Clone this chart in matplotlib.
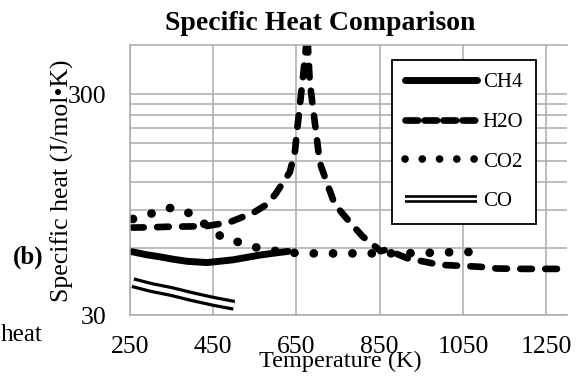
import matplotlib
matplotlib.use("Agg")
import matplotlib.pyplot as plt
from matplotlib.lines import Line2D
from matplotlib.legend_handler import HandlerTuple

plt.rcParams['font.family'] = ['Liberation Serif', 'DejaVu Serif']

# ---- data ----
ch4_T = [255, 290, 322, 355, 387, 435, 497, 562, 600, 630]
ch4_cp = [58.0, 56.2, 55.0, 53.6, 52.5, 51.8, 53.3, 56.0, 57.3, 58.2]

h2o_T = [255, 300, 346, 400, 435, 490, 546, 579, 600, 634, 646, 651, 658, 665, 670, 676,
         682, 694, 706, 723, 742, 778, 809, 843, 852, 866, 915, 994, 1090, 1131, 1200, 1300]
h2o_cp = [74.6, 74.8, 75.3, 75.5, 75.8, 79.0, 87.0, 95.0, 106.0, 133.0, 163.0, 202.0, 265.0,
          350.0, 432.0, 560.0, 339.0, 224.0, 147.0, 119.0, 95.0, 79.0, 68.0, 60.4, 58.3,
          59.3, 54.3, 50.6, 49.6, 48.7, 48.5, 48.5]

co2_T = [257, 303, 351, 394, 435, 473, 519, 567, 615, 660, 750, 850, 950, 1000, 1050, 1100]
co2_cp = [81.6, 86.5, 92.0, 86.5, 76.0, 67.0, 63.5, 59.6, 58.0, 57.0, 57.0, 57.0, 57.2,
          57.6, 57.8, 58.0]

co_T = [257, 300, 350, 400, 450, 500]
co_cp = [42.0, 40.0, 38.3, 36.3, 34.6, 33.2]

x_ticks = [250, 450, 650, 850, 1050, 1250]
y_ticks = [30, 300]
y_minor = [60, 90, 120, 150, 180, 210, 240, 270]

title = "Specific Heat Comparison"
xlabel = "Temperature (K)"
ylabel = "Specific heat (J/mol•K)"
labels = ["CH4", "H2O", "CO2", "CO"]

# ---- figure ----
W, H = 580, 379
fig = plt.figure(figsize=(W / 100, H / 100), dpi=100)
ax = fig.add_axes([130 / W, 1 - 315 / H, (567 - 130) / W, (315 - 45) / H])

grid_c = '#ababab'
ax.set_yscale('log')
ax.set_xlim(250, 1300)
ax.set_ylim(30, 500)
ax.set_xticks(x_ticks)
ax.set_xticklabels([str(t) for t in x_ticks])
ax.set_yticks(y_ticks)
ax.set_yticklabels([str(t) for t in y_ticks])
ax.set_yticks(y_minor, minor=True)
ax.yaxis.set_minor_formatter(matplotlib.ticker.NullFormatter())
ax.tick_params(axis='both', which='both', length=0, labelsize=18.5)
ax.tick_params(axis='x', pad=15)
ax.tick_params(axis='y', pad=17)
ax.grid(True, which='both', color=grid_c, lw=1.1)
ax.set_axisbelow(True)
for s in ['left', 'bottom', 'top']:
    ax.spines[s].set_color(grid_c)
    ax.spines[s].set_linewidth(1.1)
ax.spines['right'].set_visible(False)

l1, = ax.plot(ch4_T, ch4_cp, color='black', lw=5.0, solid_capstyle='round',
              solid_joinstyle='round', label=labels[0])
l2, = ax.plot(h2o_T, h2o_cp, color='black', lw=4.8, linestyle=(0, (1.75, 2.0)),
              dash_capstyle='round', dash_joinstyle='round', label=labels[1])
l3, = ax.plot(co2_T, co2_cp, color='black', lw=6.3, linestyle=(0, (0.01, 2.2)),
              dash_capstyle='round', label=labels[2])
l4a, = ax.plot(co_T, co_cp, color='black', lw=7.9, solid_capstyle='butt')
l4b, = ax.plot(co_T, co_cp, color='white', lw=3.3, solid_capstyle='butt')

# legend handles
h1 = Line2D([], [], color='black', lw=5.0, solid_capstyle='round')
h2 = Line2D([], [], color='black', lw=4.8, linestyle=(0, (1.9, 0.95)),
            dash_capstyle='round')
h3 = Line2D([], [], color='black', lw=5.5, linestyle=(0, (0.01, 2.25)),
            dash_capstyle='round')
hco_a = Line2D([], [], color='black', lw=5.5, solid_capstyle='butt')
hco_b = Line2D([], [], color='white', lw=1.7, solid_capstyle='butt')
leg = ax.legend([h1, h2, h3, (hco_a, hco_b)], labels,
                handler_map={tuple: HandlerTuple(ndivide=1, pad=0)},
                loc='upper left', bbox_to_anchor=(392 / W, 1 - 60 / H),
                bbox_transform=fig.transFigure, borderaxespad=0,
                fontsize=15, handlelength=3.5, handletextpad=0.25,
                labelspacing=0.97, borderpad=0.6, fancybox=False, framealpha=1)
leg.get_frame().set_edgecolor('black')
leg.get_frame().set_linewidth(1.3)

fig.text(320 / W, 1 - 23 / H, title, ha='center', va='center', fontsize=20,
         fontweight='bold')
fig.text(340 / W, 1 - 361 / H, xlabel, ha='center', va='center', fontsize=17.5)
fig.text(62 / W, 1 - 181 / H, ylabel, ha='center', va='center', fontsize=18.5,
         rotation=90)
fig.text(28 / W, 1 - 257 / H, "(b)", ha='center', va='center', fontsize=18,
         fontweight='bold')
fig.text(1 / W, 1 - 335 / H, "heat", ha='left', va='center', fontsize=18)

fig.savefig("out.png", dpi=100)
